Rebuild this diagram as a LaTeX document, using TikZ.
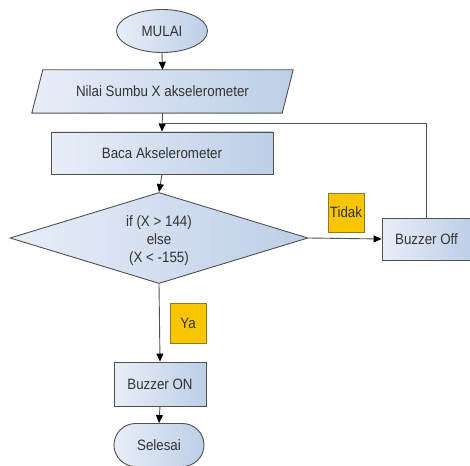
\documentclass[tikz,border=0pt]{standalone}
\usepackage{fontspec}
\setmainfont[FakeStretch=0.89]{Liberation Sans}
\usetikzlibrary{shapes.geometric,shapes.misc,arrows.meta}
\definecolor{bfillL}{HTML}{E8EEF8}
\definecolor{bfillR}{HTML}{BDCEE7}
\definecolor{edgec}{HTML}{505050}
\definecolor{tagY}{HTML}{F7C600}
\definecolor{tagE}{HTML}{8C7A2A}
\definecolor{txt}{HTML}{333333}
\begin{document}
\begin{tikzpicture}[x=1pt,y=-1pt,
  font=\fontsize{15}{17}\selectfont,
  box/.style={draw=edgec, line width=0.9pt, left color=bfillL, right color=bfillR, inner sep=0pt, text=txt},
  procbox/.style={box, rectangle},
  tagbox/.style={draw=tagE, line width=0.9pt, fill=tagY, inner sep=0pt, text=txt},
  conn/.style={draw=edgec, line width=0.9pt},
  arr/.style={conn, -{Stealth[length=8pt,width=7pt,inset=0pt,color=black]}}]
\useasboundingbox (0,0) rectangle (470,465);
\fill[white] (0,0) rectangle (470,465);

\node[box, ellipse, minimum width=91pt, minimum height=43pt] (mulai) at (162,31) {MULAI};

% parallelogram (input)
\node[inner sep=0pt, minimum width=250pt, minimum height=43pt, text=txt] (nilai) at (162.5,91.5) {};
\path[box] ([xshift=-5.5pt]nilai.south west) -- ([xshift=-5.5pt]nilai.south east)
  -- ([xshift=5.5pt]nilai.north east) -- ([xshift=5.5pt]nilai.north west) -- cycle;
\node[text=txt] (nilait) at (nilai.center) {Nilai Sumbu X akselerometer};

\node[procbox, minimum width=222pt, minimum height=42pt] (baca) at (162,153) {Baca Akselerometer};

\node[box, diamond, aspect=3.27, minimum width=298pt, minimum height=91pt] (dec) at (159,238) {};
\node[align=center, text=txt, inner sep=0pt] (dect) at ([yshift=-3pt]dec.center)
  {if (X > 144)\\[1pt] else\\[1pt] (X < -155)};

\node[procbox, minimum width=89pt, minimum height=42pt] (off) at (426.5,239) {Buzzer Off};

\node[tagbox, minimum width=36pt, minimum height=39pt] (tidak) at (346,212.5) {Tidak};
\node[tagbox, minimum width=36pt, minimum height=40pt] (ya) at (188,323) {Ya};

\node[procbox, minimum width=92pt, minimum height=44pt] (on) at (160,384) {Buzzer ON};

\node[box, rounded rectangle, minimum width=90pt, minimum height=43pt] (selesai) at (159,445) {Selesai};

\coordinate (j) at ([yshift=8pt]baca.north);

\draw[arr] (mulai.south) -- (nilai.north);
\draw[arr] (nilai.south) -- (baca.north);
\draw[arr] (baca.south) -- (dec.north);
\draw[arr] (dec.east) -- (off.west);
\draw[arr] (dec.south) -- (on.north);
\draw[arr] (on.south) -- (selesai.north);
\draw[conn] (off.north) |- (j);
\end{tikzpicture}
\end{document}
